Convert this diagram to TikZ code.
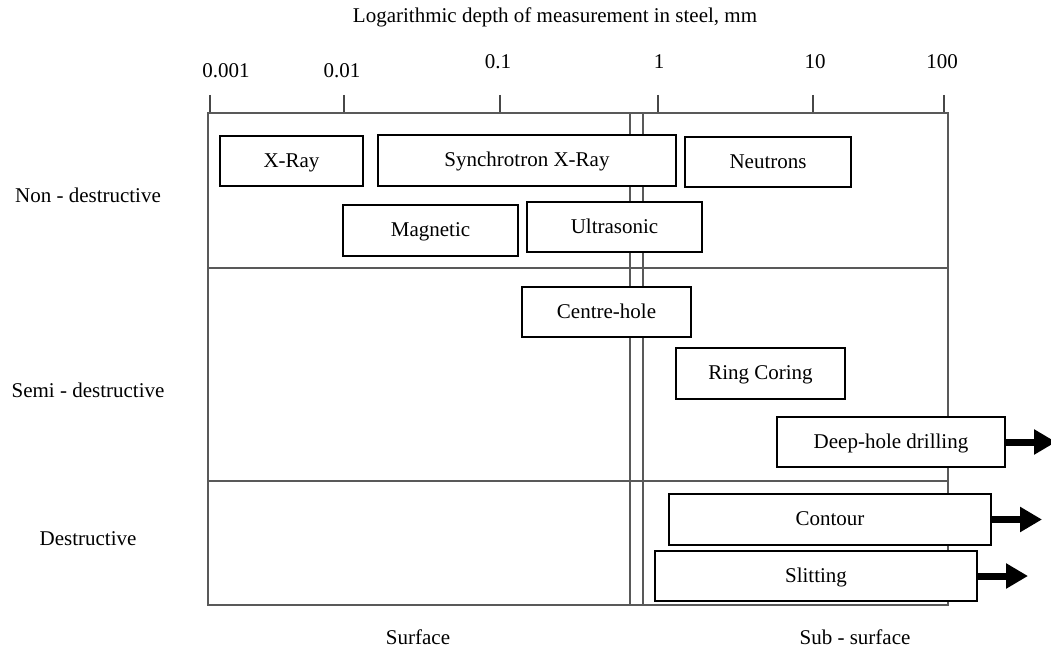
\documentclass[tikz,border=0pt]{standalone}
\usepackage{fontspec}
\setmainfont{Liberation Serif}
\usetikzlibrary{arrows.meta}
\begin{document}
\begin{tikzpicture}[x=1pt,y=-1pt,
  frame/.style={draw=black!65, line width=1.8pt},
  tick/.style={draw=black!72, line width=1.6pt},
  method/.style={draw=black, line width=2pt, fill=white, inner sep=0pt, text height=14pt, text depth=1.5pt, font=\fontsize{21}{25}\selectfont},
  lbl/.style={font=\fontsize{21}{25}\selectfont, inner sep=0pt, text height=14pt, text depth=0pt},
  bigarrow/.style={draw=black, line width=7pt, -{Triangle[length=22pt,width=24pt]}}]
\useasboundingbox (0,0) rectangle (1051,650);

% title and tick labels
\node[lbl] (title) at (555,16) {Logarithmic depth of measurement in steel, mm};
\node[lbl] (t1) at (226,71) {0.001};
\node[lbl] (t2) at (342,71) {0.01};
\node[lbl] (t3) at (498,62) {0.1};
\node[lbl] (t4) at (659,62) {1};
\node[lbl] (t5) at (815,62) {10};
\node[lbl] (t6) at (942,62) {100};

% ticks
\foreach \x in {210,344,500,658,813,944} \draw[tick] (\x,95) -- (\x,113);

% frame
\draw[frame] (208,113) rectangle (948,605);
\draw[frame] (208,268) -- (948,268);
\draw[frame] (208,481) -- (948,481);
\draw[frame] (630,113) -- (630,605);
\draw[frame] (643,113) -- (643,605);

% row labels
\node[lbl] (nd) at (88,195) {Non - destructive};
\node[lbl] (sd) at (88,390) {Semi - destructive};
\node[lbl] (de) at (88,538) {Destructive};
\node[lbl] (surf) at (418,637) {Surface};
\node[lbl] (sub) at (855,637) {Sub - surface};

% methods
\node[method, minimum width=143pt, minimum height=50pt] (xray) at (291.5,161) {X-Ray};
\node[method, minimum width=298pt, minimum height=51pt] (sync) at (527,160.5) {Synchrotron X-Ray};
\node[method, minimum width=166pt, minimum height=50pt] (neut) at (768,162) {Neutrons};
\node[method, minimum width=175pt, minimum height=51pt] (magn) at (430.5,230.5) {Magnetic};
\node[method, minimum width=175pt, minimum height=50pt] (ultra) at (614.5,227) {Ultrasonic};
\node[method, minimum width=169pt, minimum height=50pt] (centre) at (606.5,312) {Centre-hole};
\node[method, minimum width=169pt, minimum height=51pt] (ring) at (760.5,373.5) {Ring Coring};
\node[method, minimum width=228pt, minimum height=50pt] (deep) at (891,442) {Deep-hole drilling};
\node[method, minimum width=322pt, minimum height=51pt] (contour) at (830,519.5) {Contour};
\node[method, minimum width=322pt, minimum height=50pt] (slit) at (816,576) {Slitting};

% arrows
\coordinate (e1) at (1056,442);
\coordinate (e2) at (1042,519.5);
\coordinate (e3) at (1028,576);
\draw[bigarrow] (deep.east) -- (e1);
\draw[bigarrow] (contour.east) -- (e2);
\draw[bigarrow] (slit.east) -- (e3);
\end{tikzpicture}
\end{document}
